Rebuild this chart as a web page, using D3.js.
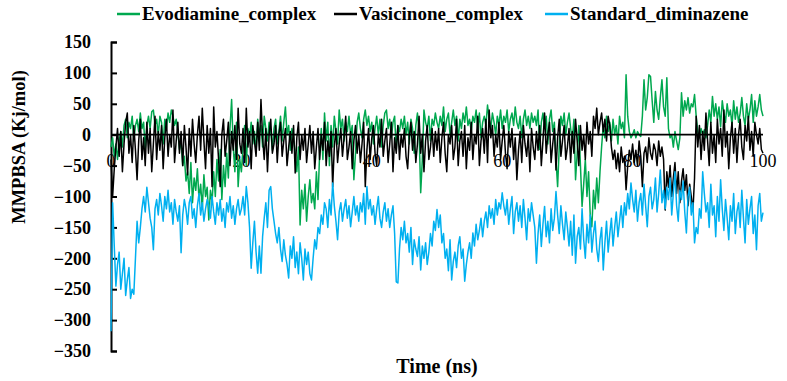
<!DOCTYPE html>
<html>
<head>
<meta charset="utf-8">
<script src="https://cdn.jsdelivr.net/npm/d3@7"></script>
<style>
  body { margin: 0; background: #fff; }
  svg { display: block; }
</style>
</head>
<body>
<div id="chart"></div>
<script>
// values, one every 0.25 ns (20 per row = 5 ns)
const timeStep = 0.25;
const seriesNames = ["Evodiamine_complex", "Vasicinone_complex", "Standard_diminazene"];
const seriesColors = ["#00a84f", "#000000", "#00b0f0"];
const xTicks = [0, 20, 40, 60, 80, 100];
const yTicks = [150, 100, 50, 0, -50, -100, -150, -200, -250, -300, -350];

const evodiamine = [
  -20, -5, -35, -15, -40, -10, 5, -20, 15, 25, -5, 20, 10, 30, -10, 15, 25, 5, 35, 10,
  20, -24, 15, 30, 10, 37, 40, 15, 25, 0, 30, 20, -15, 25, 10, 35, 20, 40, 30, 15,
  25, 5, -24, -10, -50, -35, -75, -60, -95, -45, -110, -70, -90, -55, -105, -80, -120, -65, -100, -85,
  -138, -90, -110, -60, -100, -40, -75, -24, -105, -50, -84, -30, -70, 10, 57, -20, -60, 20, -84, -40,
  -60, -20, 15, -50, 10, -5, 20, -15, 5, -29, 25, 0, 15, -20, 30, 10, -10, 20, 5, -25,
  10, 25, -15, 5, 30, -10, 20, 45, 0, 15, -25, 10, -5, -30, -60, -20, -146, -90, -120, -80,
  -140, -100, -73, -110, -95, -120, -60, -105, -30, 10, -40, 35, -10, 20, -50, 15, -20, 30, 5, -15,
  40, 10, 25, -10, 20, 5, 30, 0, 15, -73, -30, 20, 35, 10, -5, 25, 40, 15, 30, 5,
  20, -15, 10, 30, 0, 25, -20, 15, 35, 40, 10, 25, -5, 20, 30, -25, 15, 5, 25, 10,
  30, 0, 20, -15, 25, 10, -30, 15, 35, 5, -94, -40, 40, 20, 10, 30, -10, 25, 15, 35,
  20, 10, 30, 15, 45, 5, 25, 35, 0, 20, 40, 15, 30, -10, 25, 10, 35, 20, 45, 15,
  25, 5, 30, 20, 40, 10, 35, -5, 20, 30, 15, 48, 25, 10, 35, 20, 0, 30, 15, 40,
  10, 30, 20, 40, 5, 25, 35, 15, 45, 20, 10, 30, -5, 25, 40, 15, 30, 10, 35, 20,
  30, 15, 40, -24, 20, 35, 10, 30, -15, 25, 40, 5, 20, -40, -84, -20, 30, 15, 35, 0,
  20, 35, 10, -10, 25, -73, -30, 15, -50, -116, -80, -40, -100, -60, -130, -149, -90, -120, -70, -110,
  -60, -19, 15, -5, 30, 5, 20, -10, 25, 0, 15, -15, 30, 10, 20, -5, 97, 30, 5, -5,
  0, 8, -5, 5, 0, -3, 30, 89, 40, 60, 97, 94, 55, 20, 70, 40, 25, 60, 89, 45,
  30, 92, 10, -5, 0, -20, 5, -10, -24, -5, 68, 30, 55, 40, 60, 35, 50, 45, 65, 30,
  5, -5, 10, 0, 8, -5, 15, 40, 20, 62, 30, 50, 25, 45, 13, 55, 35, 20, 50, 30,
  40, 15, 55, 25, 45, 20, 35, 60, 30, 15, 50, 25, 40, 65, 20, 55, 30, 45, 65, 40,
  30
];

const vasicinone = [
  -40, -100, -55, -20, 10, -35, 5, -60, -15, 20, 35, -30, 0, -45, 15, -25, -73, -10, 25, -40,
  -5, -50, 20, -30, 10, -60, -15, 30, -40, 5, -25, 15, -55, -5, 25, -35, 0, -20, 40, -45,
  -10, 20, -30, 5, -50, 15, -20, -65, 10, -35, 25, -15, -45, 0, 30, -25, 43, -10, -55, 15,
  -30, 10, -84, 45, -20, 5, -40, -84, 0, 25, -35, -10, 20, -50, 5, -25, 15, -40, 43, -15,
  -30, 10, -45, 43, -20, 5, -55, 15, -10, -35, 20, -25, 57, -5, -40, 10, -60, 0, 25, -30,
  -15, 15, -45, 0, 20, -35, -10, 10, -50, -20, 5, -30, 15, -62, -5, 20, -40, 0, -25, 10,
  -45, -15, 15, -30, 5, -55, -20, 10, -40, 0, -25, 20, -50, -10, -35, 5, -84, -20, 10, -45,
  -15, 10, -35, -5, 30, -40, -20, 5, -55, -10, 15, -30, 0, -45, -15, 20, -84, -25, 10, -40,
  -5, 15, -30, -50, 0, -20, 25, -35, -10, 10, -45, -15, 20, -60, -5, -30, 15, -40, 0, -20,
  10, -35, -55, -5, 20, -25, 5, -45, -15, 30, -30, 0, -60, -10, 15, -40, -20, 10, -35, 5,
  -25, 10, -45, -5, 20, -30, -60, 0, -15, 15, -40, -20, 25, -50, -10, 5, -35, 15, -55, -5,
  -25, 20, -40, 0, -15, 30, -50, -10, 10, -30, 25, -45, 40, -5, 15, -35, 0, -20, 20, -40,
  -10, 15, -30, -55, 5, -20, 10, -40, -5, -73, -25, 5, -45, 15, -15, -35, 0, -60, 10, -20,
  -40, 5, -25, 15, -50, -10, 35, -30, 0, 20, -45, -15, 10, -57, -5, 25, -35, -10, 15, -40,
  -20, 10, -45, 5, -30, 25, -10, -50, 15, -25, 0, -40, 20, -15, 5, -35, 30, 10, 43, 0,
  20, 35, 5, 25, -10, 30, 15, -20, -40, -25, -55, -30, -60, -20, -45, -35, -89, -50, -25, -40,
  -15, -45, -25, -50, -10, -35, -84, -30, -20, -45, -5, -30, -40, -15, -25, -50, -10, -35, -20, -40,
  -122, -60, -85, -50, -100, -70, -45, -95, -60, -110, -75, -55, -90, -65, -115, -80, -100, -124, -70, 30,
  -20, 15, -40, 5, -25, 35, -10, -50, 20, -30, 0, -45, 25, -15, 10, -35, 40, -20, 5, -55,
  -5, 20, -30, 10, -45, 0, 25, -20, -40, 15, -10, 30, -25, 5, -35, 20, 0, -15, 10, -24,
  -30
];

const diminazene = [
  -318, -110, -180, -245, -210, -190, -250, -225, -200, -260, -235, -215, -265, -250, -258, -200, -140, -175, -150, -120,
  -100, -125, -85, -110, -135, -150, -186, -120, -105, -130, -95, -115, -140, -100, -120, -90, -125, -110, -145, -105,
  -125, -140, -115, -191, -130, -105, -120, -145, -110, -100, -135, -120, -150, -115, -95, -130, -110, -140, -120, -105,
  -115, -135, -100, -125, -145, -110, -130, -105, -140, -120, -150, -110, -125, -100, -135, -115, -145, -120, -105, -130,
  -120, -100, -130, -84, -110, -150, -216, -175, -140, -190, -224, -180, -224, -165, -135, -110, -150, -90, -84, -120,
  -140, -160, -175, -150, -185, -205, -170, -195, -210, -232, -180, -200, -165, -215, -190, -225, -175, -200, -235, -185,
  -210, -190, -225, -235, -200, -170, -185, -150, -160, -130, -145, -110, -120, -150, -105, -130, -78, -115, -140, -170,
  -125, -110, -140, -120, -105, -135, -115, -149, -125, -100, -130, -115, -140, -110, -125, -95, -145, -84, -120, -105,
  -130, -115, -145, -120, -100, -135, -150, -125, -110, -140, -120, -150, -130, -115, -160, -238, -240, -185, -150, -170,
  -140, -175, -160, -190, -150, -210, -170, -185, -197, -165, -219, -180, -200, -175, -210, -190, -160, -180, -140, -155,
  -121, -150, -130, -175, -160, -200, -185, -220, -170, -235, -205, -190, -215, -180, -165, -200, -185, -237, -210, -190,
  -175, -200, -159, -180, -145, -170, -155, -135, -165, -140, -125, -150, -115, -135, -120, -145, -105, -130, -110, -120,
  -94, -115, -130, -105, -145, -120, -100, -160, -125, -110, -140, -115, -150, -105, -135, -170, -120, -140, -110, -130,
  -150, -208, -160, -130, -181, -145, -116, -165, -140, -175, -120, -155, -135, -92, -130, -160, -115, -145, -170, -125,
  -150, -180, -140, -195, -130, -208, -165, -150, -185, -120, -170, -200, -145, -175, -130, -190, -160, -140, -185, -205,
  -170, -150, -219, -175, -140, -190, -160, -135, -180, -150, -125, -165, -140, -115, -150, -110, -130, -95, -120, -78,
  -105, -125, -90, -140, -110, -95, -130, -80, -115, -149, -100, -85, -120, -105, -70, -125, -95, -57, -110, -90,
  -120, -85, -105, -70, -130, -95, -60, -115, -140, -90, -105, -75, -125, -159, -100, -85, -130, -110, -175, -150,
  -160, -120, -135, -60, -95, -125, -110, -150, -80, -130, -115, -165, -100, -140, -73, -120, -155, -105, -135, -170,
  -115, -140, -95, -160, -125, -110, -150, -90, -135, -175, -105, -145, -120, -100, -160, -130, -186, -115, -95, -140,
  -126
];

const width = 787;
const height = 381;

const svg = d3.select("#chart")
  .append("svg")
  .attr("width", width)
  .attr("height", height);

const x = d3.scaleLinear().domain([0, 100]).range([111, 763]);
const y = d3.scaleLinear().domain([-350, 150]).range([351, 42]);

const serif = "'Liberation Serif', 'Times New Roman', serif";

// x tick labels sit under the zero line, behind the data
svg.append("g")
  .selectAll("text")
  .data(xTicks)
  .enter()
  .append("text")
  .attr("x", d => x(d))
  .attr("y", y(0) + 32)
  .attr("text-anchor", "middle")
  .style("font-family", serif)
  .style("font-size", "18px")
  .text(d => d);

// y axis, ticks point into the plot
const yAxis = d3.axisLeft(y)
  .tickValues(yTicks)
  .tickSizeInner(-6)
  .tickSizeOuter(-6)
  .tickPadding(20);

const yg = svg.append("g")
  .attr("transform", `translate(${x(0)},0)`)
  .call(yAxis);

yg.select(".domain").attr("stroke", "#000").attr("stroke-width", 2);
yg.selectAll(".tick line").attr("stroke", "#000").attr("stroke-width", 2);
yg.selectAll(".tick text")
  .style("font-family", serif)
  .style("font-size", "18px")
  .style("font-weight", "bold")
  .attr("fill", "#000");

// lines
const line = d3.line()
  .x((d, i) => x(i * timeStep))
  .y(d => y(d));

[evodiamine, vasicinone, diminazene].forEach((values, k) => {
  svg.append("path")
    .datum(values)
    .attr("d", line)
    .attr("fill", "none")
    .attr("stroke", seriesColors[k])
    .attr("stroke-width", 1.5)
    .attr("stroke-linejoin", "round");
});

// horizontal axis crossing at 0
svg.append("line")
  .attr("x1", x(0))
  .attr("x2", x(100))
  .attr("y1", y(0))
  .attr("y2", y(0))
  .attr("stroke", "#000")
  .attr("stroke-width", 1.8);

// axis titles
svg.append("text")
  .attr("x", 437)
  .attr("y", 373)
  .attr("text-anchor", "middle")
  .style("font-family", serif)
  .style("font-size", "20px")
  .style("font-weight", "bold")
  .text("Time (ns)");

svg.append("text")
  .attr("transform", "translate(25,147) rotate(-90)")
  .attr("text-anchor", "middle")
  .style("font-family", serif)
  .style("font-size", "18.5px")
  .style("font-weight", "bold")
  .text("MMPBSA (Kj/mol)");

// legend
const legendX = [117, 334, 545];
const legend = svg.append("g");
seriesNames.forEach((name, k) => {
  legend.append("line")
    .attr("x1", legendX[k])
    .attr("x2", legendX[k] + 23)
    .attr("y1", 14)
    .attr("y2", 14)
    .attr("stroke", seriesColors[k])
    .attr("stroke-width", 2.5);
  legend.append("text")
    .attr("x", legendX[k] + 25)
    .attr("y", 20)
    .style("font-family", serif)
    .style("font-size", "19px")
    .style("font-weight", "bold")
    .text(name);
});
</script>
</body>
</html>
